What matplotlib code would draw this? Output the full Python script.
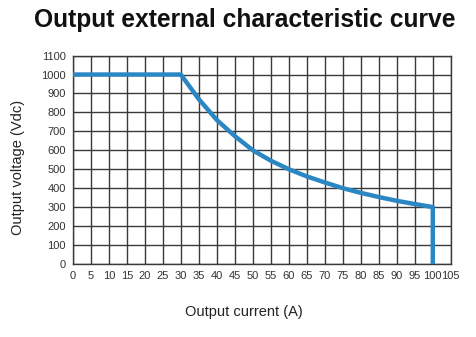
import matplotlib
matplotlib.use("Agg")
import matplotlib.pyplot as plt

current = [0, 30, 35, 40, 45, 50, 55, 60, 65, 70, 75, 80, 85, 90, 95, 100, 100]
voltage = [1000, 1000, 870, 760, 675, 600, 545, 500, 462, 430, 400, 375, 353, 333, 316, 300, 0]
xticks = list(range(0, 110, 5))
yticks = list(range(0, 1200, 100))

plt.rcParams['font.family'] = ['Liberation Sans', 'DejaVu Sans']
fig = plt.figure(figsize=(4.76, 3.37), dpi=100)
ax = fig.add_axes([0.153, 0.217, 0.794, 0.618])
ax.plot(current, voltage, color='#2b87c3', lw=3.2, solid_joinstyle='round', zorder=3)
ax.set_xlim(0, 105)
ax.set_ylim(0, 1100)
ax.set_xticks(xticks)
ax.set_yticks(yticks)
ax.tick_params(labelsize=8, length=0, pad=5, colors='#333333')
ax.grid(True, color='#3a3a3a', lw=1.0)
for s in ax.spines.values():
    s.set_color('#3a3a3a')
    s.set_linewidth(1.0)
fig.text(0.512, 1 - 312/337, 'Output current (A)', ha='center', va='center',
         fontsize=10.5, color='#222222')
fig.text(18/476, 1 - 167/337, 'Output voltage (Vdc)', ha='center', va='center',
         rotation=90, fontsize=10.5, color='#222222')
fig.text(0.515, 1 - 20/337, 'Output external characteristic curve', ha='center', va='center',
         fontsize=17.7, fontweight='bold', color='#111111')
fig.savefig('out.png', dpi=100)
